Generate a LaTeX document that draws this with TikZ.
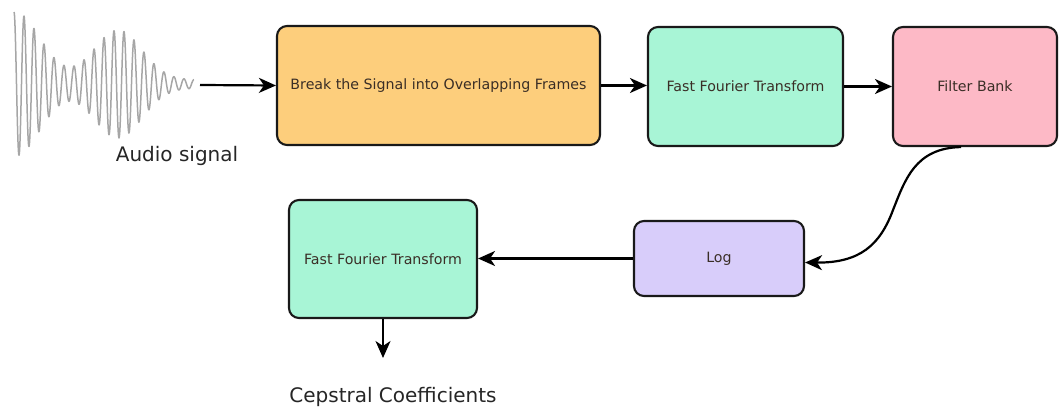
\documentclass[tikz,border=0pt]{standalone}
\usepackage{fontspec}
\setmainfont{DejaVu Sans}
\usetikzlibrary{arrows.meta}
\definecolor{cOrange}{HTML}{FDCE7C}
\definecolor{cGreen}{HTML}{A8F5D6}
\definecolor{cPink}{HTML}{FDB9C6}
\definecolor{cLav}{HTML}{D8CDFA}
\definecolor{cTxt}{HTML}{3A2E26}
\tikzset{
  blk/.style={draw=black!90, line width=2.1pt, rounded corners=10pt, inner sep=0pt,
    font=\fontsize{14.2}{16}\selectfont, text=cTxt},
  conn/.style={line width=2.2pt, -{Stealth[length=17pt,width=15pt,inset=5pt]}},
  lbl/.style={font=\fontsize{20}{24}\selectfont, text=black!85},
}
\begin{document}
\begin{tikzpicture}[x=1pt,y=1pt]
\useasboundingbox (0,0) rectangle (1059,-419);
% waveform
\draw[gray!70, line width=1.5pt, line join=round]
  plot[domain=14:194, samples=720, smooth]
  (\x, {-84 + (68*exp(-((\x-15)/36)^2) + 50*exp(-((\x-118)/34)^2) + 4)*sin(36*(\x-14)+90)});
\coordinate (wav) at (200,-85);
\node[lbl] (audio) at (177,-156) {Audio signal};
% boxes
\node[blk, fill=cOrange, minimum width=323pt, minimum height=119pt] (b1) at (438.5,-85.5) {Break the Signal into Overlapping Frames};
\node[blk, fill=cGreen, minimum width=195pt, minimum height=119pt] (b2) at (745.5,-86.5) {Fast Fourier Transform};
\node[blk, fill=cPink, minimum width=164pt, minimum height=119pt] (b3) at (975,-86.5) {Filter Bank};
\node[blk, fill=cGreen, minimum width=188pt, minimum height=118pt] (b4) at (383,-259) {Fast Fourier Transform};
\node[blk, fill=cLav, minimum width=170pt, minimum height=75pt] (b5) at (719,-258.5) {Log};
\coordinate (cep) at (383,-358);
\node[lbl] (ceptxt) at (393,-397) {Cepstral Coefficients};
% connectors
\draw[conn] (wav) -- (b1.west);
\draw[conn] (b1.east) -- (b2.west |- b1.east);
\draw[conn] (b2.east) -- (b3.west |- b2.east);
\draw[conn] ([xshift=-14pt]b3.south) .. controls (915,-148) and (905,-180) .. (893,-210)
  .. controls (880,-245) and (860,-263) .. ([yshift=-4pt]b5.east);
\draw[conn] (b5.west) -- (b4.east |- b5.west);
\draw[conn] (b4.south) -- (cep);
\end{tikzpicture}
\end{document}
